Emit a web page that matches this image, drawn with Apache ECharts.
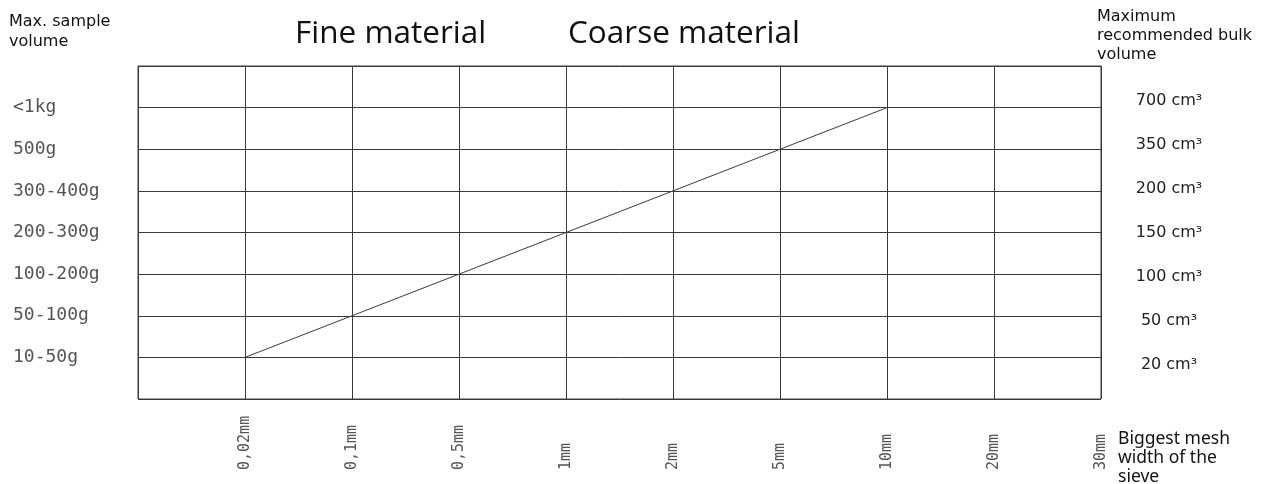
<!DOCTYPE html>
<html><head><meta charset="utf-8">
<script src="https://cdn.jsdelivr.net/npm/echarts@6/dist/echarts.min.js"></script>
<style>html,body{margin:0;padding:0;background:#fff}#c{width:1267px;height:484px}</style>
</head><body><div id="c"></div>
<script>
const meshWidths = ['', '0,02mm', '0,1mm', '0,5mm', '1mm', '2mm', '5mm', '10mm', '20mm', '30mm'];
const sampleVolumes = ['', '10-50g', '50-100g', '100-200g', '200-300g', '300-400g', '500g', '<1kg', ''];
const bulkVolumes = ['20 cm³', '50 cm³', '100 cm³', '150 cm³', '200 cm³', '350 cm³', '700 cm³'];
// line: mesh width -> max sample volume
const lineMesh = ['0,02mm', '0,1mm', '0,5mm', '1mm', '2mm', '5mm', '10mm'];
const lineSample = ['10-50g', '50-100g', '100-200g', '200-300g', '300-400g', '500g', '<1kg'];

const chart = echarts.init(document.getElementById('c'));
const lineCol = '#3a3a3a';
const mono = '"DejaVu Sans Mono", monospace';
chart.setOption({
  animation: false,
  grid: [
    {left: 138, right: 166, top: 66, bottom: 85, show: true, borderColor: lineCol, borderWidth: 1},
    {left: 138, right: 166, top: 101, height: 264, show: false}
  ],
  xAxis: [
    {type: 'category', gridIndex: 0, data: meshWidths, boundaryGap: false,
     axisLine: {show: false}, axisTick: {show: false},
     splitLine: {show: true, lineStyle: {color: lineCol, width: 1}},
     axisLabel: {rotate: 90, align: 'left', margin: 71, interval: 0, fontFamily: mono, fontSize: 15, color: '#555'}},
    {type: 'value', gridIndex: 1, show: false}
  ],
  yAxis: [
    {type: 'category', gridIndex: 0, data: sampleVolumes, boundaryGap: false,
     axisLine: {show: false}, axisTick: {show: false},
     splitLine: {show: true, lineStyle: {color: lineCol, width: 1}},
     axisLabel: {align: 'left', margin: 125, interval: 0, fontFamily: mono, fontSize: 18, color: '#555'}},
    {type: 'category', gridIndex: 1, data: bulkVolumes, boundaryGap: false, position: 'right',
     axisLine: {show: false}, axisTick: {show: false}, splitLine: {show: false},
     axisLabel: {align: 'center', margin: 68, interval: 0, fontFamily: '"DejaVu Sans"', fontSize: 16, color: '#222'}}
  ],
  series: [
    {type: 'line', xAxisIndex: 0, yAxisIndex: 0, symbol: 'none',
     lineStyle: {color: lineCol, width: 1},
     data: lineMesh.map((m, i) => [m, lineSample[i]])},
    {type: 'line', xAxisIndex: 1, yAxisIndex: 1, symbol: 'none', data: []}
  ],
  graphic: [
    {type: 'text', left: 295, top: 18, style: {text: 'Fine material', font: '31.5px "Open Sans"', fill: '#111'}},
    {type: 'text', left: 568, top: 18, style: {text: 'Coarse material', font: '31.5px "Open Sans"', fill: '#111'}},
    {type: 'text', left: 9, top: 12, style: {text: 'Max. sample\nvolume', font: '16px "DejaVu Sans"', lineHeight: 20, fill: '#111'}},
    {type: 'text', left: 1097, top: 7, style: {text: 'Maximum\nrecommended bulk\nvolume', font: '16px "DejaVu Sans"', lineHeight: 19, fill: '#111'}},
    {type: 'text', left: 1118, top: 430, style: {text: 'Biggest mesh\nwidth of the\nsieve', font: '17.5px "Noto Sans"', lineHeight: 19, fill: '#111'}}
  ]
});
</script></body></html>
